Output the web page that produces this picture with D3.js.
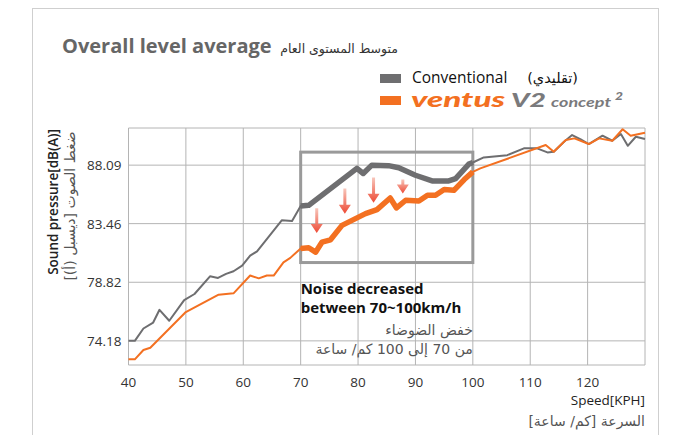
<!DOCTYPE html>
<html>
<head>
<meta charset="utf-8">
<script src="https://cdn.jsdelivr.net/npm/d3@7"></script>
<style>
  body { margin: 0; background: #fff; }
  svg { display: block; }
  .ar { font-family: "DejaVu Sans", sans-serif; }
</style>
</head>
<body>
<div id="graph"></div>
<script>
const width = 678, height = 435;
const margin = { left: 128.5, right: 33, top: 128, bottom: 70 };

// speed [KPH] / sound pressure [dB(A)]
const convSpeed = [40, 41.1, 42.6, 44.3, 45.4, 47.1, 49.7, 51.5, 54.2, 55.6, 57, 58.3, 59.8, 61.2, 62.4, 66.7, 68.5, 70,
  71.4, 79.8, 80.9, 82.4, 85.3, 87.1, 90, 92.9, 95.8, 97, 99.3, 100,
  101.9, 106, 108.9, 111.2, 113, 114.1, 115.9, 117.3, 118.8, 120.2, 122.6, 124.3, 125.8, 127, 128.4, 130];
const convDb = [74.18, 74.18, 75.16, 75.63, 76.64, 75.77, 77.41, 77.89, 79.29, 79.16, 79.48, 79.69, 80.14, 80.93, 81.27, 83.72, 83.66, 84.85,
  84.91, 87.83, 87.43, 88.09, 88.05, 87.88, 87.29, 86.84, 86.84, 87.03, 88.17, 88.3,
  88.7, 88.88, 89.42, 89.42, 89.1, 89.15, 89.94, 90.47, 90.13, 89.76, 90.42, 90.02, 90.55, 89.62, 90.34, 90.16];

const ventSpeed = [40, 41.1, 42.6, 43.8, 49.9, 55.7, 58.3, 61.2, 62.7, 64.1, 65.3, 67, 68.2, 70,
  71.4, 72.6, 73.7, 75.2, 77.2, 81.3, 83.3, 85.6, 86.7, 88.3, 90.6, 92.1, 93.5, 95, 96.7, 98.5, 100,
  101.3, 112.7, 114.1, 116.2, 117.7, 120.2, 122, 124.3, 126.1, 127.5, 130];
const ventDb = [72.72, 72.72, 73.46, 73.64, 76.43, 77.84, 77.94, 79.35, 79.13, 79.35, 79.35, 80.4, 80.75, 81.5,
  81.55, 81.2, 81.99, 82.18, 83.32, 84.25, 84.57, 85.49, 84.7, 85.31, 85.25, 85.71, 85.71, 86.16, 86.1, 86.95, 87.56,
  87.83, 89.68, 89.15, 90.08, 90.21, 89.76, 90.21, 90.02, 90.93, 90.42, 90.66];

const xTicks = [40, 50, 60, 70, 80, 90, 100, 110, 120, 130];
const xTickLabels = ["40", "50", "60", "70", "80", "90", "100", "110", "120", ""];
const yTicks = [74.18, 78.82, 83.46, 88.09];

// highlighted range and the arrows inside it
const boxSpeed = [70, 100];
const boxDb = [80.38, 89.12];
const arrowSpeed = [72.8, 77.7, 82.7, 87.8];
const arrowTop = [84.67, 86.24, 87.11, 86.95];
const arrowTip = [82.71, 84.25, 85.12, 85.84];

const grey = "#6e6e70", orange = "#f37021";

const svg = d3.select("#graph").append("svg")
  .attr("width", width)
  .attr("height", height);

const defs = svg.append("defs");
const grad = defs.append("linearGradient")
  .attr("id", "arrowGrad")
  .attr("x1", 0).attr("y1", 0).attr("x2", 0).attr("y2", 1);
grad.append("stop").attr("offset", "0%").attr("stop-color", "#f7c6bb");
grad.append("stop").attr("offset", "100%").attr("stop-color", "#ee4a35");

// outer frame
svg.append("rect")
  .attr("x", 32.5).attr("y", 8.5)
  .attr("width", 626).attr("height", 440)
  .attr("fill", "none")
  .attr("stroke", "#cfcfcf");

const x = d3.scaleLinear().domain([40, 130]).range([margin.left, width - margin.right]);
const y = d3.scaleLinear().domain([72.27, 91.03]).range([height - margin.bottom, margin.top]);

const plot = svg.append("g");

// grid
plot.append("g").selectAll("line")
  .data(xTicks)
  .enter().append("line")
  .attr("x1", d => x(d)).attr("x2", d => x(d))
  .attr("y1", y.range()[1]).attr("y2", y.range()[0])
  .attr("stroke", "#b4b4b4");

plot.append("g").selectAll("line")
  .data([...yTicks, y.domain()[0], y.domain()[1]])
  .enter().append("line")
  .attr("x1", x.range()[0]).attr("x2", x.range()[1])
  .attr("y1", d => y(d)).attr("y2", d => y(d))
  .attr("stroke", "#b4b4b4");

// tick labels
plot.append("g").selectAll("text")
  .data(yTicks)
  .enter().append("text")
  .attr("x", x.range()[0] - 7)
  .attr("y", d => y(d) + 5)
  .attr("text-anchor", "end")
  .style("font", "13.5px 'Open Sans', sans-serif")
  .attr("fill", "#333")
  .text(d => d.toFixed(2));

plot.append("g").selectAll("text")
  .data(xTicks)
  .enter().append("text")
  .attr("x", d => x(d))
  .attr("y", height - margin.bottom + 22)
  .attr("text-anchor", "middle")
  .style("font", "13.5px 'Open Sans', sans-serif")
  .attr("fill", "#333")
  .text((d, i) => xTickLabels[i]);

// highlight box
plot.append("rect")
  .attr("x", x(boxSpeed[0]))
  .attr("y", y(boxDb[1]))
  .attr("width", x(boxSpeed[1]) - x(boxSpeed[0]))
  .attr("height", y(boxDb[0]) - y(boxDb[1]))
  .attr("fill", "none")
  .attr("stroke", "#9a9a9a")
  .attr("stroke-width", 3);

// lines
const line = d3.line().x(d => x(d[0])).y(d => y(d[1]));
const series = [
  { pts: d3.zip(convSpeed, convDb), color: grey },
  { pts: d3.zip(ventSpeed, ventDb), color: orange }
];

series.forEach(s => {
  plot.append("path")
    .attr("d", line(s.pts))
    .attr("fill", "none")
    .attr("stroke", s.color)
    .attr("stroke-width", 2)
    .attr("stroke-linejoin", "round");
  plot.append("path")
    .attr("d", line(s.pts.filter(p => p[0] >= boxSpeed[0] && p[0] <= boxSpeed[1])))
    .attr("fill", "none")
    .attr("stroke", s.color)
    .attr("stroke-width", 5.5)
    .attr("stroke-linejoin", "round");
});

// arrows
const arrows = plot.append("g").selectAll("g")
  .data(arrowSpeed.map((s, i) => ({ s: s, top: arrowTop[i], tip: arrowTip[i] })))
  .enter().append("g");

arrows.append("path")
  .attr("fill", "url(#arrowGrad)")
  .attr("d", d => {
    const cx = x(d.s), t = y(d.top), b = y(d.tip), hh = 9;
    return `M${cx - 1.5},${t} L${cx + 1.5},${t} L${cx + 1.5},${b - hh} L${cx + 6},${b - hh} L${cx},${b} L${cx - 6},${b - hh} L${cx - 1.5},${b - hh} Z`;
  });

// annotation text
const note = svg.append("g");
note.append("text")
  .attr("x", x(boxSpeed[0]))
  .attr("y", 294)
  .style("font", "bold 15px 'Open Sans', sans-serif")
  .attr("fill", "#111")
  .text("Noise decreased");
note.append("text")
  .attr("x", x(boxSpeed[0]))
  .attr("y", 313)
  .style("font", "bold 15px 'Open Sans', sans-serif")
  .attr("fill", "#111")
  .text("between 70~100km/h");
note.append("text")
  .attr("class", "ar")
  .attr("x", x(boxSpeed[1]))
  .attr("y", 335)
  .attr("direction", "rtl")
  .attr("text-anchor", "start")
  .style("font-size", "14px")
  .attr("fill", "#555")
  .text("خفض الضوضاء");
note.append("text")
  .attr("class", "ar")
  .attr("x", x(boxSpeed[1]))
  .attr("y", 354)
  .attr("direction", "rtl")
  .attr("text-anchor", "start")
  .style("font-size", "14px")
  .attr("fill", "#555")
  .text("من 70 إلى 100 كم/ ساعة");

// axis titles
svg.append("text")
  .attr("x", x.range()[1])
  .attr("y", 405)
  .attr("text-anchor", "end")
  .style("font", "500 13.5px 'Open Sans', sans-serif")
  .attr("fill", "#222")
  .text("Speed[KPH]");
svg.append("text")
  .attr("class", "ar")
  .attr("x", x.range()[1])
  .attr("y", 426)
  .attr("direction", "rtl")
  .attr("text-anchor", "start")
  .style("font-size", "14px")
  .attr("fill", "#555")
  .text("السرعة [كم/ ساعة]");

svg.append("text")
  .attr("transform", "translate(58,202) rotate(-90)")
  .attr("text-anchor", "middle")
  .style("font", "600 13.5px 'Open Sans', sans-serif")
  .attr("fill", "#222")
  .text("Sound pressure[dB(A)]");
svg.append("text")
  .attr("class", "ar")
  .attr("transform", "translate(75,206) rotate(-90)")
  .attr("direction", "rtl")
  .attr("text-anchor", "middle")
  .style("font-size", "14px")
  .attr("fill", "#555")
  .text("ضغط الصوت [ديسبل (أ)]");

// title
svg.append("text")
  .attr("x", 62)
  .attr("y", 53)
  .style("font", "bold 20px 'Open Sans', sans-serif")
  .attr("fill", "#666")
  .text("Overall level average");
svg.append("text")
  .attr("class", "ar")
  .attr("x", 398)
  .attr("y", 53)
  .attr("direction", "rtl")
  .attr("text-anchor", "start")
  .style("font-size", "12.5px")
  .attr("fill", "#333")
  .text("متوسط المستوى العام");

// legend
const legend = svg.append("g");
legend.append("rect").attr("x", 380).attr("y", 74).attr("width", 21).attr("height", 9).attr("fill", grey);
legend.append("rect").attr("x", 380).attr("y", 96).attr("width", 21).attr("height", 9).attr("fill", orange);
legend.append("text")
  .attr("x", 412).attr("y", 83)
  .style("font", "15.5px 'Open Sans', sans-serif")
  .attr("fill", "#111")
  .text("Conventional");
legend.append("text")
  .attr("class", "ar")
  .attr("x", 578).attr("y", 83)
  .attr("direction", "rtl")
  .attr("text-anchor", "start")
  .style("font-size", "14.5px")
  .attr("fill", "#111")
  .text("(تقليدي)");

// product name, stretched to the width of the logo type
const brandParts = [
  { t: "ventus", x: 411, w: 94, size: 20, weight: 900, fill: orange, dy: 0 },
  { t: "V2", x: 511, w: 35, size: 19, weight: 900, fill: "#7a7a7c", dy: 0 },
  { t: "concept", x: 551, w: 60, size: 13, weight: 700, fill: "#7a7a7c", dy: 0 },
  { t: "2", x: 615, w: 8, size: 11, weight: 900, fill: "#7a7a7c", dy: -7 }
];
legend.selectAll(".brand")
  .data(brandParts)
  .enter().append("text")
  .attr("class", "brand")
  .attr("x", d => d.x)
  .attr("y", d => 107 + d.dy)
  .attr("textLength", d => d.w)
  .attr("lengthAdjust", "spacingAndGlyphs")
  .style("font-family", "Lato, 'Open Sans', sans-serif")
  .style("font-style", "italic")
  .style("font-weight", d => d.weight)
  .style("font-size", d => d.size + "px")
  .attr("fill", d => d.fill)
  .text(d => d.t);
</script>
</body>
</html>
